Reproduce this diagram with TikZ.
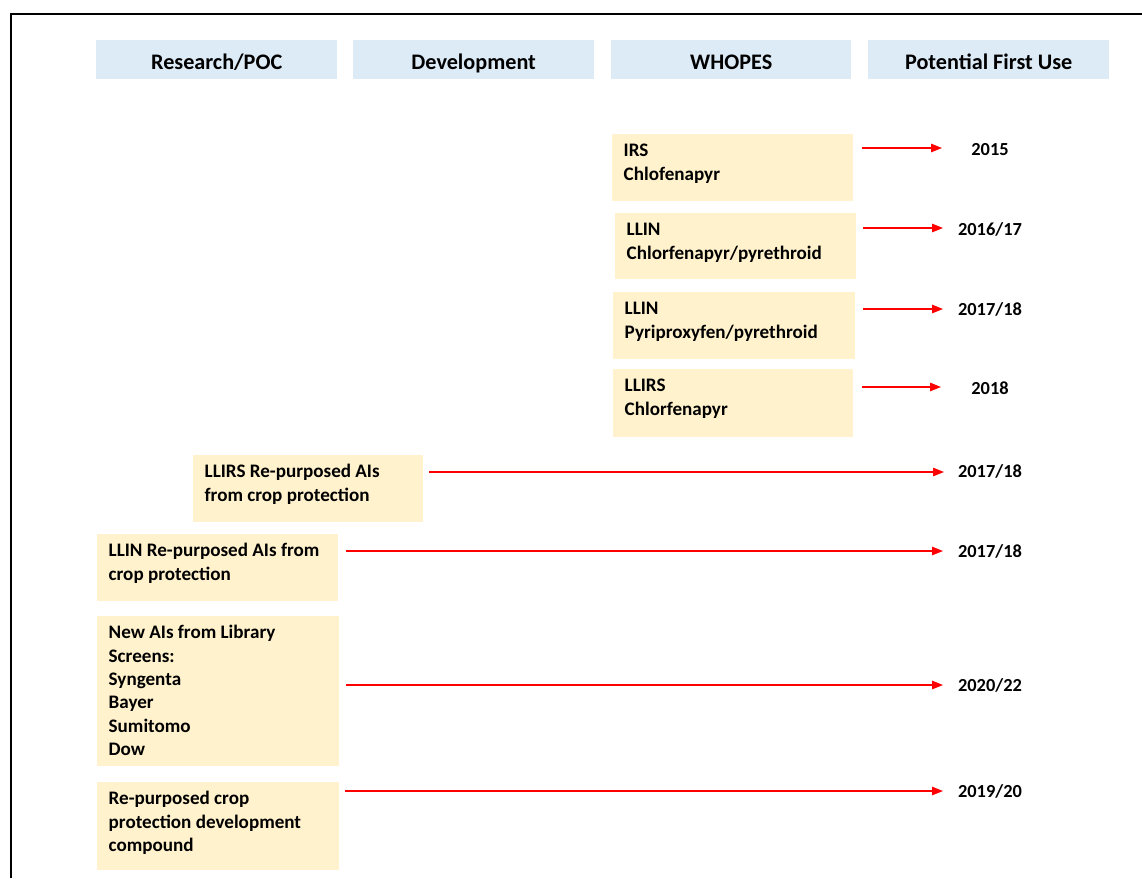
\documentclass[tikz,border=0pt]{standalone}
\usepackage{fontspec}
\setmainfont{Carlito}
\usetikzlibrary{arrows.meta,calc}
\definecolor{hdrblue}{RGB}{221,235,247}
\definecolor{boxyel}{RGB}{255,242,204}
\definecolor{arrred}{RGB}{255,0,0}
\newcommand{\boxtext}[3]{\parbox[c][#2][t]{#1}{\leftskip=11.5pt\baselineskip=23.4pt\rule{0pt}{22.5pt}#3}}
\newcommand{\hdrtext}[2]{\parbox[c][39pt][t]{#1}{\centering\rule{0pt}{29pt}#2}}
\begin{document}
\begin{tikzpicture}[x=1pt,y=-1pt,
  hdrbox/.style={fill=hdrblue, inner sep=0pt, anchor=north west, font=\bfseries\fontsize{22.2}{26}\selectfont},
  ybox/.style={fill=boxyel, inner sep=0pt, anchor=north west, font=\bfseries\fontsize{19.1}{23.4}\selectfont},
  yr/.style={anchor=base, inner sep=0pt, font=\bfseries\fontsize{18.4}{23}\selectfont},
  redarrow/.style={draw=arrred, line width=1.3pt, -{Triangle[length=11pt,width=8.5pt]}}]
\fill[white] (0,0) rectangle (1142,878);
\useasboundingbox (0,0) rectangle (1142,878);
\draw[line width=2.3pt] (11,878) -- (11,14) -- (1142,14);
% headers
\node[hdrbox] (h1) at (96,40) {\hdrtext{241pt}{Research/POC}};
\node[hdrbox] (h2) at (353,40) {\hdrtext{241pt}{Development}};
\node[hdrbox] (h3) at (611,40) {\hdrtext{240pt}{WHOPES}};
\node[hdrbox] (h4) at (868,40) {\hdrtext{241pt}{Potential First Use}};
% boxes
\node[ybox] (b1) at (612,134) {\boxtext{241pt}{67pt}{IRS\\Chlofenapyr}};
\node[ybox] (b2) at (615,213) {\boxtext{241pt}{66pt}{LLIN\\Chlorfenapyr/pyrethroid}};
\node[ybox] (b3) at (613,292) {\boxtext{242pt}{67pt}{LLIN\\Pyriproxyfen/pyrethroid}};
\node[ybox] (b4) at (613,369) {\boxtext{240pt}{68pt}{LLIRS\\Chlorfenapyr}};
\node[ybox] (b5) at (193,455) {\boxtext{230pt}{67pt}{LLIRS Re-purposed AIs\\from crop protection}};
\node[ybox] (b6) at (97,534) {\boxtext{241pt}{67pt}{LLIN Re-purposed AIs from\\crop protection}};
\node[ybox] (b7) at (97,616) {\boxtext{242pt}{150pt}{New AIs from Library\\Screens:\\Syngenta\\Bayer\\Sumitomo\\Dow}};
\node[ybox] (b8) at (97,782) {\boxtext{242pt}{88pt}{Re-purposed crop\\protection development\\compound}};
% arrow ends and years
\coordinate (t1) at (942,148);
\coordinate (t2) at (943,228);
\coordinate (t3) at (943,309);
\coordinate (t4) at (941,387);
\coordinate (t5) at (944,472);
\coordinate (t6) at (943,551);
\coordinate (t7) at (943,685);
\coordinate (t8) at (943,791);
\node[yr] (y1) at (990,155.5) {2015};
\node[yr] (y2) at (990,235) {2016/17};
\node[yr] (y3) at (990,315.5) {2017/18};
\node[yr] (y4) at (990,394.5) {2018};
\node[yr] (y5) at (990,477.5) {2017/18};
\node[yr] (y6) at (990,557.5) {2017/18};
\node[yr] (y7) at (990,691.5) {2020/22};
\node[yr] (y8) at (990,797.5) {2019/20};
% arrows
\draw[redarrow] ($(b1.east |- t1)+(9,0)$) -- (t1);
\draw[redarrow] ($(b2.east |- t2)+(7,0)$) -- (t2);
\draw[redarrow] ($(b3.east |- t3)+(8,0)$) -- (t3);
\draw[redarrow] ($(b4.east |- t4)+(9,0)$) -- (t4);
\draw[redarrow] ($(b5.east |- t5)+(6,0)$) -- (t5);
\draw[redarrow] ($(b6.east |- t6)+(8,0)$) -- (t6);
\draw[redarrow] ($(b7.east |- t7)+(7,0)$) -- (t7);
\draw[redarrow] ($(b8.east |- t8)+(6,0)$) -- (t8);
\end{tikzpicture}
\end{document}
